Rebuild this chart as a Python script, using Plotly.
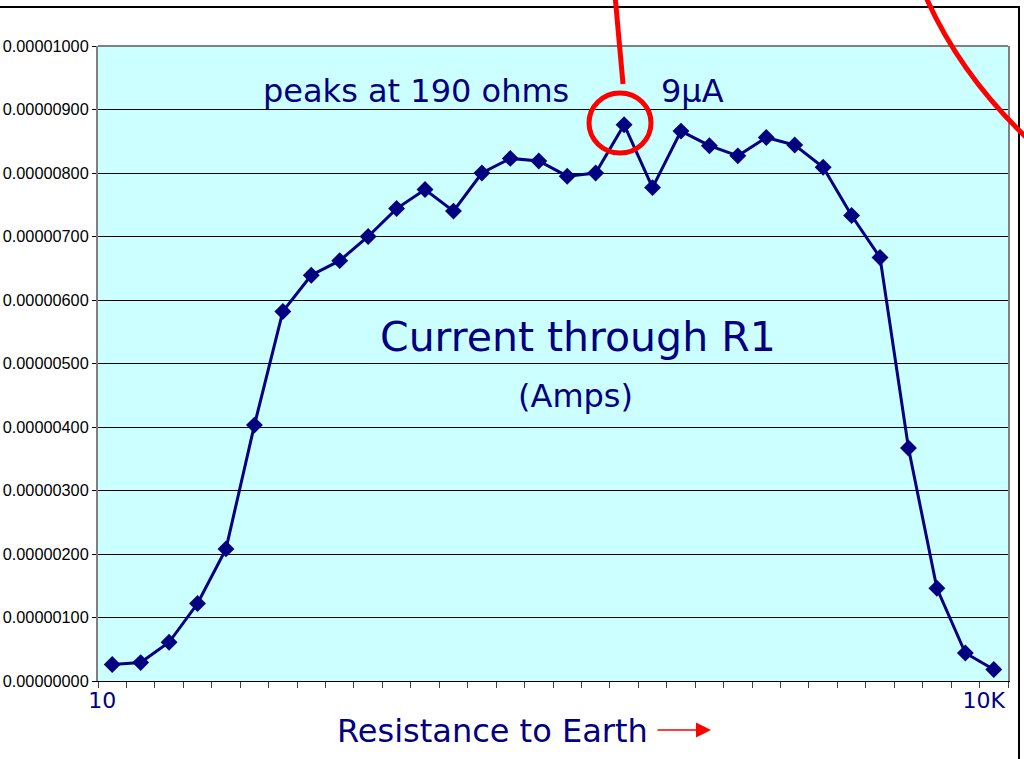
import plotly.graph_objects as go

# ---- data ----
resistance_labels = ["10", "20", "30", "40", "50", "60", "70", "80", "90", "100",
                     "110", "120", "130", "140", "150", "160", "170", "180", "190", "200",
                     "300", "400", "500", "700", "1K", "1.5K", "2K", "3K", "4K", "5K", "7K", "10K"]
current_amps = [2.6e-7, 2.9e-7, 6.1e-7, 12.2e-7, 20.8e-7, 40.3e-7, 58.2e-7, 63.9e-7,
                66.2e-7, 70.0e-7, 74.4e-7, 77.4e-7, 74.0e-7, 80.0e-7, 82.3e-7, 81.9e-7,
                79.5e-7, 80.0e-7, 87.6e-7, 77.7e-7, 86.6e-7, 84.3e-7, 82.7e-7, 85.6e-7,
                84.4e-7, 80.9e-7, 73.3e-7, 66.7e-7, 36.7e-7, 14.6e-7, 4.4e-7, 1.8e-7]
y_ticks = [i * 1e-6 for i in range(11)]
x_tick_text = [c if i in (0, len(resistance_labels) - 1) else "" for i, c in enumerate(resistance_labels)]

NAVY = "#000080"
RED = "#FF0000"

# plot area in pixels
L, R, T, B = 98, 1008, 46, 681
W, H = R - L, B - T


def px(x):
    return (x - L) / W


def py(y):
    return (B - y) / H


fig = go.Figure()
fig.add_trace(go.Scatter(
    x=resistance_labels, y=current_amps, mode="lines+markers",
    line=dict(color=NAVY, width=3),
    marker=dict(symbol="diamond", size=13, color=NAVY),
    showlegend=False, hoverinfo="x+y"))

fig.update_layout(
    width=1024, height=759,
    margin=dict(l=L, r=1024 - R, t=T, b=759 - B),
    paper_bgcolor="white", plot_bgcolor="#CCFFFF",
    showlegend=False,
    xaxis=dict(type="category", tickmode="array", tickvals=resistance_labels,
               ticktext=x_tick_text, tickson="boundaries", ticks="outside",
               ticklen=6, tickcolor="#404040", showgrid=False, tickangle=0,
               automargin=False,
               showline=True, linecolor="black", linewidth=1,
               tickfont=dict(family="DejaVu Sans", size=22, color=NAVY),
               ticklabelshift=-10, range=[-0.5, len(resistance_labels) - 0.5]),
    yaxis=dict(range=[0, 1e-5], tickmode="array", tickvals=y_ticks,
               tickformat=".8f", ticks="outside", ticklen=4, tickcolor="black",
               showgrid=True, gridcolor="black", gridwidth=1, zeroline=False,
               automargin=False,
               showline=True, linecolor="#808080", linewidth=2, mirror=True,
               tickfont=dict(family="Liberation Sans", size=16.3, color="black")),
)

shapes = []
# top border of plot area
shapes.append(dict(type="line", xref="paper", yref="paper", x0=0, x1=1, y0=1, y1=1,
                   line=dict(color="#808080", width=2)))
# outer chart frame
shapes.append(dict(type="rect", xref="paper", yref="paper",
                   x0=px(-10), x1=px(1019), y0=py(790), y1=py(7),
                   line=dict(color="black", width=2), fillcolor="rgba(0,0,0,0)"))
# red pointer line
shapes.append(dict(type="line", xref="paper", yref="paper",
                   x0=px(615), y0=py(-5), x1=px(623), y1=py(84),
                   line=dict(color=RED, width=5)))
# red circle around peak
shapes.append(dict(type="circle", xref="paper", yref="paper",
                   x0=px(589), x1=px(651), y0=py(153), y1=py(93),
                   line=dict(color=RED, width=5)))
# big red curve top right
shapes.append(dict(type="path", xref="paper", yref="paper",
                   path=f"M {px(925)},{py(-5)} Q {px(960)},{py(75)} {px(1030)},{py(141)}",
                   line=dict(color=RED, width=5)))
fig.update_layout(shapes=shapes)

ann_font = dict(family="DejaVu Sans", color=NAVY)
annotations = [
    dict(text="peaks at 190 ohms", x=px(416), y=py(91), font=dict(size=32, **ann_font)),
    dict(text="9μA", x=px(692), y=py(91), font=dict(size=32, **ann_font)),
    dict(text="Current through R1", x=px(578), y=py(337), font=dict(size=41, **ann_font)),
    dict(text="(Amps)", x=px(575), y=py(396), font=dict(size=32, **ann_font)),
    dict(text="Resistance to Earth", x=px(492), y=py(731), font=dict(size=32, **ann_font)),
]
for a in annotations:
    a.update(xref="paper", yref="paper", xanchor="center", yanchor="middle", showarrow=False)
annotations.append(dict(text="", xref="paper", yref="paper", x=px(711), y=py(730),
                        ax=-55, ay=0, showarrow=True, arrowhead=2, arrowsize=2,
                        arrowwidth=1.5, arrowcolor=RED))
fig.update_layout(annotations=annotations)

fig.write_html("out.html", config={"displayModeBar": False},
               post_script="document.body.style.margin='0';document.body.style.overflow='hidden';")
